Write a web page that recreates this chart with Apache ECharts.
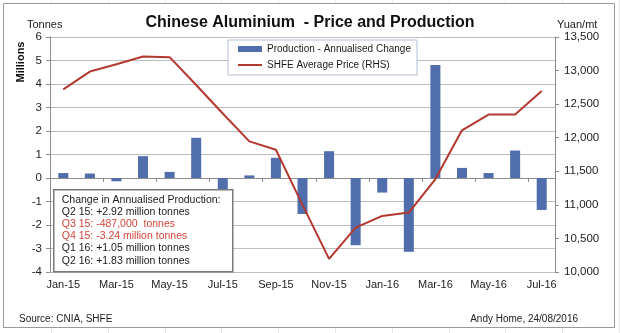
<!DOCTYPE html>
<html><head><meta charset="utf-8">
<script src="https://cdn.jsdelivr.net/npm/echarts@6/dist/echarts.min.js"></script>
<style>
html,body{margin:0;padding:0;background:#fff}
#c{width:620px;height:333px;background-color:#fff;
background-image:repeating-linear-gradient(90deg, transparent 0px, transparent 51px, #e6e6e6 51px, #e6e6e6 52px, transparent 52px, transparent 56.8px);}
</style>
</head><body><div id="c"></div>
<script>
const months = ['Jan-15','Feb-15','Mar-15','Apr-15','May-15','Jun-15','Jul-15','Aug-15','Sep-15','Oct-15','Nov-15','Dec-15','Jan-16','Feb-16','Mar-16','Apr-16','May-16','Jun-16','Jul-16'];
const productionChange = [0.21,0.19,-0.14,0.93,0.26,1.71,-0.5,0.11,0.86,-1.53,1.14,-2.86,-0.62,-3.14,4.81,0.43,0.21,1.17,-1.36];
const shfePrice = [12720,12985,13095,13210,13200,12785,12360,11945,11820,11000,10195,10660,10835,10885,11385,12110,12345,12345,12695];
const leftAxis = {min:-4, max:6, interval:1};
const rightAxis = {min:10000, max:13500, interval:500};
const seriesNames = ['Production - Annualised Change','SHFE Average Price (RHS)'];
const noteLines = [
  {t:'Change in Annualised Production:', red:false},
  {t:'Q2 15: +2.92 million tonnes', red:false},
  {t:'Q3 15: -487,000  tonnes', red:true},
  {t:'Q4 15: -3.24 million tonnes', red:true},
  {t:'Q1 16: +1.05 million tonnes', red:false},
  {t:'Q2 16: +1.83 million tonnes', red:false}
];
const FONT = "'Liberation Sans', Arial, sans-serif";
const chart = echarts.init(document.getElementById('c'), null, {renderer:'canvas'});
const noteChildren = [
  {type:'rect', z:100, shape:{x:0, y:0, width:179, height:82},
   style:{fill:'#fff', stroke:'#7a7a7a', lineWidth:1.5}}
].concat(noteLines.map((l, i) => ({
  type:'text', z:101, x:8, y:10 + i * 12.2,
  style:{text:l.t, fill:l.red ? '#d4453a' : '#1a1a1a', fontSize:10.5, fontFamily:FONT, verticalAlign:'middle'}
})));
chart.setOption({
  backgroundColor:'transparent',
  animation:false,
  textStyle:{fontFamily:FONT},
  title:{
    text:'Chinese Aluminium  - Price and Production',
    left:'center', top:10,
    textStyle:{fontSize:16, fontWeight:'bold', color:'#111', fontFamily:FONT}
  },
  legend:{
    orient:'vertical', left:228, top:40,
    padding:[4,6,5,9], itemGap:6, itemWidth:24, itemHeight:6,
    borderColor:'#b4bfd2', borderWidth:1, backgroundColor:'#fff',
    textStyle:{fontSize:10, color:'#1a1a1a', fontFamily:FONT},
    data:[{name:seriesNames[0], icon:'rect'},{name:seriesNames[1], itemStyle:{opacity:0}}]
  },
  grid:{left:50, right:65, top:37, bottom:61, containLabel:false},
  xAxis:[
    {type:'category', data:months, position:'bottom',
     axisLine:{show:false, onZero:false}, axisTick:{show:false},
     axisLabel:{interval:1, margin:7, fontSize:11, color:'#222', fontFamily:FONT},
     splitLine:{show:false}},
    {type:'category', data:months, position:'top',
     axisLine:{show:true, onZero:true, onZeroAxisIndex:0, lineStyle:{color:'#8c8c8c', width:1}},
     axisTick:{show:true, inside:true, interval:1, length:4, lineStyle:{color:'#8c8c8c'}},
     axisLabel:{show:false}, splitLine:{show:false}}
  ],
  yAxis:[
    {type:'value', position:'left', min:leftAxis.min, max:leftAxis.max, interval:leftAxis.interval,
     axisLine:{show:true, lineStyle:{color:'#8c8c8c'}},
     axisTick:{show:true, length:4, lineStyle:{color:'#8c8c8c'}},
     axisLabel:{margin:8, fontSize:11.5, color:'#222', fontFamily:FONT},
     splitLine:{show:true, lineStyle:{color:'#bdbdbd', width:1}}},
    {type:'value', position:'right', min:rightAxis.min, max:rightAxis.max, interval:rightAxis.interval,
     axisLine:{show:true, lineStyle:{color:'#8c8c8c'}},
     axisTick:{show:true, length:4, lineStyle:{color:'#8c8c8c'}},
     axisLabel:{margin:9, fontSize:11.5, color:'#222', fontFamily:FONT,
       formatter:v => v.toLocaleString('en-US')},
     splitLine:{show:false}}
  ],
  series:[
    {name:seriesNames[0], type:'bar', xAxisIndex:0, yAxisIndex:0, data:productionChange,
     barWidth:10, itemStyle:{color:'#4f6eab'}, z:2},
    {name:seriesNames[1], type:'line', xAxisIndex:0, yAxisIndex:1, data:shfePrice,
     symbol:'none', lineStyle:{color:'#b3382f', width:2}, itemStyle:{color:'#b3382f'}, z:3}
  ],
  graphic:[
    {type:'rect', z:-10, silent:true, shape:{x:3.5, y:3.5, width:611, height:324},
     style:{fill:'#fff', stroke:'#9a9a9a', lineWidth:1}},
    {type:'group', left:53, top:189, z:100, children:noteChildren},
    {type:'text', left:27, top:19, style:{text:'Tonnes', fontSize:11, fill:'#222', fontFamily:FONT}},
    {type:'text', left:557, top:19, style:{text:'Yuan/mt', fontSize:11, fill:'#222', fontFamily:FONT}},
    {type:'text', x:21, y:62, rotation:Math.PI/2, style:{text:'Millions', fontSize:11, fontWeight:'bold', fill:'#111', fontFamily:FONT, align:'center', verticalAlign:'middle'}},
    {type:'text', left:19, top:314, style:{text:'Source: CNIA, SHFE', fontSize:10, fill:'#222', fontFamily:FONT}},
    {type:'text', right:42, top:314, style:{text:'Andy Home, 24/08/2016', fontSize:10, fill:'#222', fontFamily:FONT}}
  ]
});
</script>
</body></html>
